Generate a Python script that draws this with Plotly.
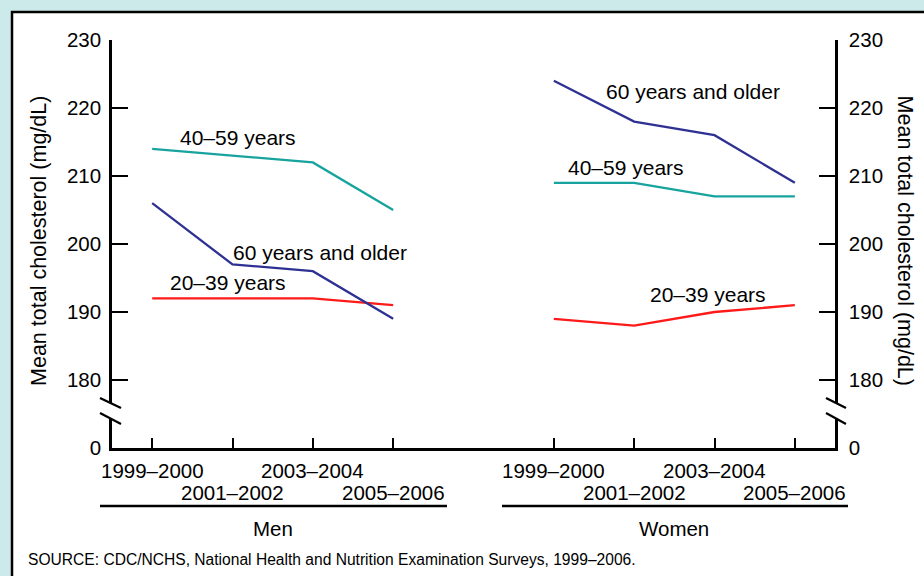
import plotly.graph_objects as go

# ---- data ----
periods = ["1999–2000", "2001–2002", "2003–2004", "2005–2006"]
groups = ["Men", "Women"]
men_20_39 = [192, 192, 192, 191]
men_40_59 = [214, 213, 212, 205]
men_60_plus = [206, 197, 196, 189]
women_20_39 = [189, 188, 190, 191]
women_40_59 = [209, 209, 207, 207]
women_60_plus = [224, 218, 216, 209]
y_tick_values = [170, 180, 190, 200, 210, 220, 230]
y_tick_labels = ["0", "180", "190", "200", "210", "220", "230"]
series_names = ["20–39 years", "40–59 years", "60 years and older"]

# ---- styling ----
FONT = "Liberation Sans, Arial, Helvetica, sans-serif"
TEAL = "#17a39e"
NAVY = "#2e3192"
RED = "#ff1a1a"
BG = "#cdeaea"
Y_MIN, Y_MAX = 170, 230

group_offset = [0, 5]
men_x = [group_offset[0] + i for i in range(len(periods))]
women_x = [group_offset[1] + i for i in range(len(periods))]

fig = go.Figure()
colors = [RED, TEAL, NAVY]
men_series = [men_20_39, men_40_59, men_60_plus]
women_series = [women_20_39, women_40_59, women_60_plus]
for name, c, vals in zip(series_names, colors, men_series):
    fig.add_trace(go.Scatter(x=men_x, y=vals, mode="lines", name="Men " + name,
                             line=dict(color=c, width=2.3), cliponaxis=False,
                             showlegend=False, hoverinfo="skip"))
for name, c, vals in zip(series_names, colors, women_series):
    fig.add_trace(go.Scatter(x=women_x, y=vals, mode="lines", name="Women " + name,
                             line=dict(color=c, width=2.3), cliponaxis=False,
                             showlegend=False, hoverinfo="skip", yaxis="y2"))

ann = []
# series labels (position x, y in data units)
label_pos_men = [(0.94, 194.3), (1.07, 215.7), (2.09, 198.8)]
label_pos_women = [(6.92, 192.6), (5.9, 211.3), (6.73, 222.5)]
for name, (lx, ly) in zip(series_names, label_pos_men):
    ann.append(dict(x=lx, y=ly, xref="x", yref="y", text=name, showarrow=False,
                    xanchor="center", yanchor="middle",
                    font=dict(size=21, color="black", family=FONT)))
for name, (lx, ly) in zip(series_names, label_pos_women):
    ann.append(dict(x=lx, y=ly, xref="x", yref="y", text=name, showarrow=False,
                    xanchor="center", yanchor="middle",
                    font=dict(size=21, color="black", family=FONT)))

# staggered x tick labels
row_y = [-0.054, -0.108]
for xs in (men_x, women_x):
    for i, (xv, lab) in enumerate(zip(xs, periods)):
        ann.append(dict(x=xv, y=row_y[i % 2], xref="x", yref="paper", text=lab,
                        showarrow=False, xanchor="center", yanchor="middle",
                        font=dict(size=20.5, color="black", family=FONT)))

# group labels
for xs, g in zip((men_x, women_x), groups):
    ann.append(dict(x=sum(xs) / len(xs), y=-0.198, xref="x", yref="paper", text=g,
                    showarrow=False, xanchor="center", yanchor="middle",
                    font=dict(size=20.5, color="black", family=FONT)))

# axis titles
ytitle = "Mean total cholesterol (mg/dL)"
ann.append(dict(x=-0.102, y=0.508, xref="paper", yref="paper", text=ytitle, textangle=-90,
                xanchor="center", yanchor="middle",
                showarrow=False, font=dict(size=21.5, color="black", family=FONT)))
ann.append(dict(x=1.097, y=0.508, xref="paper", yref="paper", text=ytitle, textangle=90,
                xanchor="center", yanchor="middle",
                showarrow=False, font=dict(size=21.5, color="black", family=FONT)))

# source
ann.append(dict(x=-0.119, y=-0.2745, xref="paper", yref="paper", xanchor="left", yanchor="middle",
                text="SOURCE: CDC/NCHS, National Health and Nutrition Examination Surveys, 1999–2006.",
                showarrow=False, font=dict(size=15.6, color="black", family=FONT)))

shapes = []
# white panel with black left/top border
shapes.append(dict(type="rect", xref="paper", yref="paper", x0=-0.1383, x1=1.3, y0=-0.5, y1=1.0686,
                   fillcolor="white", line=dict(color="black", width=2.5), layer="below"))
# group underlines
shapes.append(dict(type="line", xref="paper", yref="paper", x0=-0.0166, x1=0.4633, y0=-0.142, y1=-0.142,
                   line=dict(color="black", width=2.5)))
shapes.append(dict(type="line", xref="paper", yref="paper", x0=0.5394, x1=1.018, y0=-0.142, y1=-0.142,
                   line=dict(color="black", width=2.5)))
# axis breaks
for xc, dxl, dxr in ((0.0, -12, 9), (1.0, -9, 11)):
    shapes.append(dict(type="rect", xref="paper", yref="paper", x0=xc - 6 / 723, x1=xc + 6 / 723,
                       y0=0.0735, y1=0.1103, fillcolor="white", line=dict(width=0), layer="above"))
    for ya, yb in ((0.1225, 0.098), (0.0858, 0.0588)):
        shapes.append(dict(type="line", xref="paper", yref="paper", x0=xc + dxl / 723, x1=xc + dxr / 723,
                           y0=ya, y1=yb, line=dict(color="black", width=2.2), layer="above"))

yaxis_common = dict(range=[Y_MIN, Y_MAX], tickvals=y_tick_values, ticktext=y_tick_labels,
                    ticks="inside", ticklen=16, tickwidth=2.2, tickcolor="black",
                    showline=True, linewidth=2.5, linecolor="black", showgrid=False, zeroline=False,
                    tickfont=dict(size=20.5, color="black", family=FONT), fixedrange=True)

fig.update_layout(
    width=924, height=576, autosize=False,
    margin=dict(l=112, r=89, t=40, b=128, pad=0),
    paper_bgcolor=BG, plot_bgcolor="white",
    font=dict(family=FONT, color="black"),
    xaxis=dict(range=[-0.5, 8.5], tickvals=men_x + women_x, ticks="inside", ticklen=10,
               tickwidth=2.2, tickcolor="black", showline=True, linewidth=2.5, linecolor="black",
               showticklabels=False, showgrid=False, zeroline=False, fixedrange=True),
    yaxis=dict(side="left", ticklabelstandoff=4, **yaxis_common),
    yaxis2=dict(side="right", overlaying="y", ticklabelstandoff=7, **yaxis_common),
    annotations=ann, shapes=shapes, showlegend=False,
)

fig.write_html("out.html", config={"displayModeBar": False},
               post_script="document.body.style.margin='0';document.body.style.overflow='hidden';")
